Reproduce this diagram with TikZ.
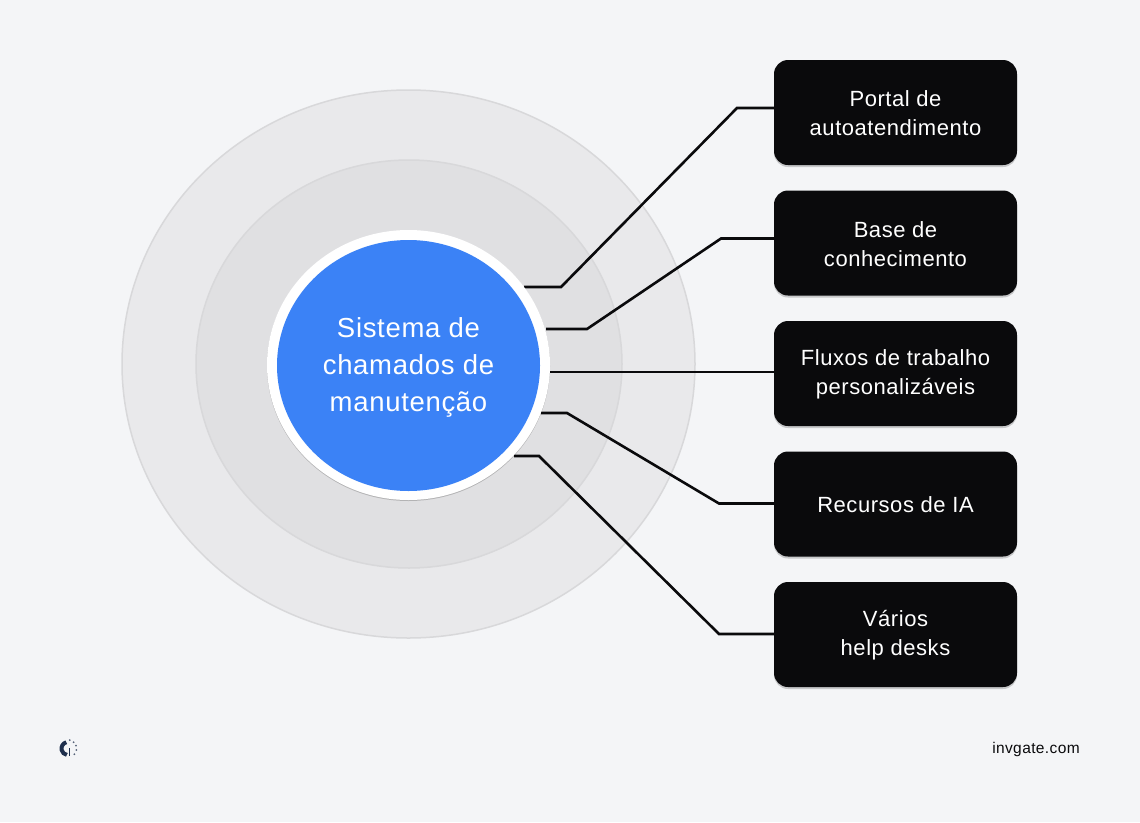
\documentclass[tikz,border=0pt]{standalone}
\usepackage{fontspec}
\setmainfont{Liberation Sans}[LetterSpace=2.5]
\usetikzlibrary{shapes.geometric,shadows}
\definecolor{pagebg}{HTML}{F4F5F7}
\definecolor{ringout}{HTML}{E9E9EB}
\definecolor{ringmid}{HTML}{E0E0E2}
\definecolor{ringline}{HTML}{D8D8DA}
\definecolor{hubblue}{HTML}{3B82F6}
\definecolor{boxblack}{HTML}{0A0A0C}
\definecolor{logoblue}{HTML}{1E2F4D}
\tikzset{
  ring/.style={ellipse, draw=ringline, line width=1.5pt, inner sep=0pt},
  featbox/.style={rectangle, rounded corners=14pt, fill=boxblack, minimum width=243pt, minimum height=105pt, inner sep=0pt,
    drop shadow={shadow xshift=0pt, shadow yshift=-2pt, opacity=0.18, fill=black}},
  feattext/.style={text=white, align=center, inner sep=0pt, yshift=-1pt, font=\fontsize{22}{29}\selectfont},
  link/.style={draw=boxblack, line width=2.6pt, line join=miter},
}
\begin{document}
\begin{tikzpicture}[x=1pt,y=-1pt]
    \fill[pagebg] (0,0) rectangle (1140,822);
    \useasboundingbox (0,0) rectangle (1140,822);

    \node[ring, fill=ringout, minimum width=573pt, minimum height=548pt] (outer) at (408.5,364) {};
    \node[ring, fill=ringmid, minimum width=426pt, minimum height=408pt] (middle) at (409,364) {};

    \node[featbox, label={[feattext]center:Portal de\\autoatendimento}] (portal) at (895.5,112.5) {};
    \node[featbox, label={[feattext]center:Base de\\conhecimento}] (base) at (895.5,243) {};
    \node[featbox, label={[feattext]center:Fluxos de trabalho\\personalizáveis}] (fluxos) at (895.5,373.5) {};
    \node[featbox, label={[feattext]center:Recursos de IA}] (recursos) at (895.5,504) {};
    \node[featbox, label={[feattext]center:Vários\\help desks}] (varios) at (895.5,634.5) {};

    \coordinate (s1) at (524,287);
    \coordinate (s2) at (546,329);
    \coordinate (s3) at (550,372);
    \coordinate (s4) at (541,413);
    \coordinate (s5) at (514,456);

    \draw[link] (s1) -- (561,287) -- (737,108) -- (portal.west |- 0,108);
    \draw[link] (s2) -- (587,329) -- (721,238.5) -- (base.west |- 0,238.5);
    \draw[link] (s3) -- (fluxos.west |- 0,372);
    \draw[link] (s4) -- (567,413) -- (719,503.5) -- (recursos.west |- 0,503.5);
    \draw[link] (s5) -- (539,456) -- (719,634) -- (varios.west |- 0,634);

    \node[ellipse, fill=white, minimum width=283pt, minimum height=270pt, inner sep=0pt,
      drop shadow={shadow xshift=0pt, shadow yshift=-1pt, opacity=0.2, fill=black}] (hubrim) at (408.5,365) {};
    \node[ellipse, fill=hubblue, minimum width=263pt, minimum height=251pt, inner sep=0pt,
      label={[feattext, yshift=-1pt, font=\fontsize{27.5}{37}\selectfont]center:Sistema de\\chamados de\\manutenção}] (hub) at (408.5,365.5) {};

    % logo
    \draw[logoblue, line width=4pt] (68,748.5) ++(105:6.5pt) arc[start angle=105, end angle=260, radius=6.5pt];
    \foreach \a in {-42,-10,20,48,78} {
      \fill[logoblue!75] (68,748.5) ++(\a:8.5pt) circle[radius=1pt];
    }
    \draw[logoblue, line width=1pt] (69.3,748) -- (69.3,756);

    \node[font=\fontsize{15.5}{18}\selectfont, text=boxblack] (site) at (1036,749.5) {invgate.com};
\end{tikzpicture}
\end{document}
